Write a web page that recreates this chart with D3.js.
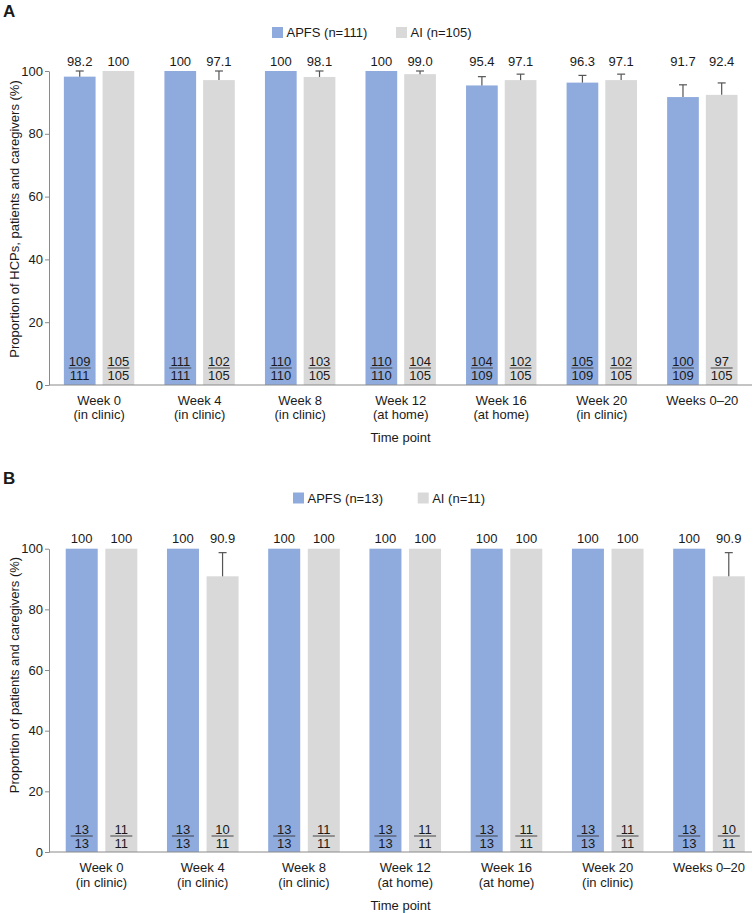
<!DOCTYPE html>
<html>
<head>
<meta charset="utf-8">
<script src="https://cdn.jsdelivr.net/npm/d3@7"></script>
<style>
  html, body { margin: 0; padding: 0; background: #fff; }
  svg text { font-family: "Liberation Sans", Arial, Helvetica, sans-serif; fill: #1a1a1a; }
</style>
</head>
<body>
<svg id="chart" width="753" height="913"></svg>
<script>
// ---------- DATA ----------
const categoriesLine1 = ["Week 0", "Week 4", "Week 8", "Week 12", "Week 16", "Week 20", "Weeks 0\u201320"];
const categoriesLine2 = ["(in clinic)", "(in clinic)", "(in clinic)", "(at home)", "(at home)", "(in clinic)", ""];
const seriesKeys = ["APFS", "AI"];
const yTicks = [0, 20, 40, 60, 80, 100];

// Panel A
const legendA = ["APFS (n=111)", "AI (n=105)"];
const apfsA = [98.2, 100, 100, 100, 95.4, 96.3, 91.7];
const aiA = [100, 97.1, 98.1, 99.0, 97.1, 97.1, 92.4];
const apfsALabels = ["98.2", "100", "100", "100", "95.4", "96.3", "91.7"];
const aiALabels = ["100", "97.1", "98.1", "99.0", "97.1", "97.1", "92.4"];
const apfsAUpper = [100, null, null, null, 98.2, 98.6, 95.6];
const aiAUpper = [null, 100, 100, 100, 99.0, 99.0, 96.2];
const apfsANum = [109, 111, 110, 110, 104, 105, 100];
const apfsADen = [111, 111, 110, 110, 109, 109, 109];
const aiANum = [105, 102, 103, 104, 102, 102, 97];
const aiADen = [105, 105, 105, 105, 105, 105, 105];

// Panel B
const legendB = ["APFS (n=13)", "AI (n=11)"];
const apfsB = [100, 100, 100, 100, 100, 100, 100];
const aiB = [100, 90.9, 100, 100, 100, 100, 90.9];
const apfsBLabels = ["100", "100", "100", "100", "100", "100", "100"];
const aiBLabels = ["100", "90.9", "100", "100", "100", "100", "90.9"];
const apfsBUpper = [null, null, null, null, null, null, null];
const aiBUpper = [null, 98.7, null, null, null, null, 98.7];
const apfsBNum = [13, 13, 13, 13, 13, 13, 13];
const apfsBDen = [13, 13, 13, 13, 13, 13, 13];
const aiBNum = [11, 10, 11, 11, 11, 11, 10];
const aiBDen = [11, 11, 11, 11, 11, 11, 11];

const colors = { APFS: "#8FAADC", AI: "#D9D9D9" };
const axisColor = "#8a8a8a";
const errColor = "#555555";
const FS = 13;

const svg = d3.select("#chart");

function drawPanel(cfg) {
  const g = svg.append("g");
  const y = d3.scaleLinear().domain([0, 100]).range([cfg.y0, cfg.y100]);
  const x = d3.scaleBand().domain(d3.range(categoriesLine1.length)).range(cfg.xRange).padding(0);
  const xs = d3.scaleBand().domain(seriesKeys).range([-cfg.half, cfg.half]).paddingInner(cfg.innerPad).paddingOuter(0);

  // panel letter
  g.append("text").attr("x", 3).attr("y", cfg.letterY).attr("font-size", 17).attr("font-weight", "bold").text(cfg.letter);

  // legend
  cfg.legend.forEach((t, i) => {
    g.append("rect").attr("x", cfg.legendX[i]).attr("y", cfg.legendY - 5.5).attr("width", 11).attr("height", 11)
      .attr("fill", colors[seriesKeys[i]]);
    g.append("text").attr("x", cfg.legendX[i] + 14.5).attr("y", cfg.legendY + 4.7).attr("font-size", FS).text(t);
  });

  const series = [
    { key: "APFS", vals: cfg.apfs, labels: cfg.apfsLabels, upper: cfg.apfsUpper, num: cfg.apfsNum, den: cfg.apfsDen },
    { key: "AI", vals: cfg.ai, labels: cfg.aiLabels, upper: cfg.aiUpper, num: cfg.aiNum, den: cfg.aiDen }
  ];

  series.forEach(s => {
    const cx = i => x(i) + x.bandwidth() / 2 + xs(s.key) + xs.bandwidth() / 2;
    const sg = g.append("g");
    // bars
    sg.selectAll("rect.bar").data(s.vals).join("rect")
      .attr("x", (d, i) => x(i) + x.bandwidth() / 2 + xs(s.key))
      .attr("width", xs.bandwidth())
      .attr("y", d => y(d))
      .attr("height", d => y(0) - y(d))
      .attr("fill", colors[s.key]);
    // error bars
    s.upper.forEach((u, i) => {
      if (u == null) return;
      sg.append("line").attr("x1", cx(i)).attr("x2", cx(i)).attr("y1", y(s.vals[i])).attr("y2", y(u))
        .attr("stroke", errColor).attr("stroke-width", 1.2);
      sg.append("line").attr("x1", cx(i) - 4).attr("x2", cx(i) + 4).attr("y1", y(u)).attr("y2", y(u))
        .attr("stroke", errColor).attr("stroke-width", 1.2);
    });
    // value labels
    sg.selectAll("text.val").data(s.labels).join("text")
      .attr("x", (d, i) => cx(i)).attr("y", cfg.valueY).attr("text-anchor", "middle").attr("font-size", FS).text(d => d);
    // fractions
    s.num.forEach((n, i) => {
      sg.append("text").attr("x", cx(i)).attr("y", cfg.fracLineY - 2.5).attr("text-anchor", "middle").attr("font-size", FS).text(n);
      sg.append("line").attr("x1", cx(i) - 11).attr("x2", cx(i) + 11).attr("y1", cfg.fracLineY).attr("y2", cfg.fracLineY)
        .attr("stroke", "#333").attr("stroke-width", 0.9);
      sg.append("text").attr("x", cx(i)).attr("y", cfg.fracLineY + 11.8).attr("text-anchor", "middle").attr("font-size", FS).text(s.den[i]);
    });
  });

  // y axis
  const ya = g.append("g").attr("transform", `translate(${cfg.axisX},0)`)
    .call(d3.axisLeft(y).tickValues(yTicks).tickSize(4).tickSizeOuter(0).tickPadding(2));
  ya.select(".domain").attr("stroke", axisColor);
  ya.selectAll(".tick line").attr("stroke", axisColor);
  ya.selectAll(".tick text").attr("font-size", FS).attr("font-family", null).style("fill", "#1a1a1a");

  // x axis line
  g.append("line").attr("x1", cfg.axisX).attr("x2", 752).attr("y1", y(0)).attr("y2", y(0))
    .attr("stroke", axisColor).attr("stroke-width", 1.2);

  // category labels
  categoriesLine1.forEach((c, i) => {
    const cx = x(i) + x.bandwidth() / 2;
    g.append("text").attr("x", cx).attr("y", cfg.cat1Y).attr("text-anchor", "middle").attr("font-size", FS).text(c);
    if (categoriesLine2[i]) g.append("text").attr("x", cx).attr("y", cfg.cat1Y + 14.3).attr("text-anchor", "middle").attr("font-size", FS).text(categoriesLine2[i]);
  });

  // axis titles
  g.append("text").attr("x", 400.5).attr("y", cfg.xTitleY).attr("text-anchor", "middle").attr("font-size", FS).text("Time point");
  g.append("text").attr("transform", `translate(18.5,${cfg.yTitleCenter}) rotate(-90)`).attr("text-anchor", "middle")
    .attr("font-size", FS).text(cfg.yTitle);
}

drawPanel({
  letter: "A", letterY: 17,
  legend: legendA, legendX: [272, 396], legendY: 32.5,
  y0: 385, y100: 71, xRange: [48.8, 752.6], half: 35.2, innerPad: 0.181, axisX: 49,
  apfs: apfsA, ai: aiA, apfsLabels: apfsALabels, aiLabels: aiALabels,
  apfsUpper: apfsAUpper, aiUpper: aiAUpper,
  apfsNum: apfsANum, apfsDen: apfsADen, aiNum: aiANum, aiDen: aiADen,
  valueY: 65.8, fracLineY: 368, cat1Y: 404.8, xTitleY: 442.3,
  yTitle: "Proportion of HCPs, patients and caregivers (%)", yTitleCenter: 219
});

drawPanel({
  letter: "B", letterY: 484,
  legend: legendB, legendX: [293, 417.7], legendY: 498,
  y0: 852, y100: 548.7, xRange: [50.9, 759.6], half: 35.8, innerPad: 0.192, axisX: 49,
  apfs: apfsB, ai: aiB, apfsLabels: apfsBLabels, aiLabels: aiBLabels,
  apfsUpper: apfsBUpper, aiUpper: aiBUpper,
  apfsNum: apfsBNum, apfsDen: apfsBDen, aiNum: aiBNum, aiDen: aiBDen,
  valueY: 542.8, fracLineY: 836, cat1Y: 872.3, xTitleY: 910,
  yTitle: "Proportion of patients and caregivers (%)", yTitleCenter: 675
});
</script>
</body>
</html>
